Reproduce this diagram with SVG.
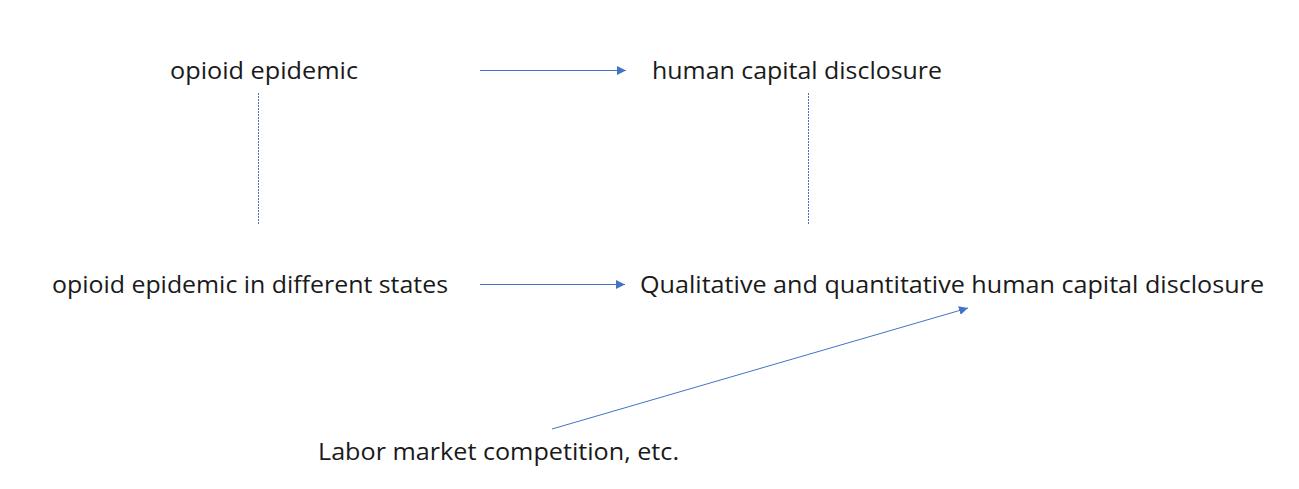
<svg xmlns="http://www.w3.org/2000/svg" width="1299" height="489" viewBox="0 0 1299 489">
<style>
text{font-family:"Open Sans","Noto Sans","Liberation Sans",sans-serif;font-size:24px;fill:#1a1a1a}
.c{stroke:#4472C4;stroke-width:1;fill:none}
.d{stroke:#4472C4;stroke-width:1;stroke-dasharray:2 1;fill:none}
</style>
<defs>
<marker id="ah" markerWidth="10" markerHeight="10" refX="9" refY="4.5" orient="auto" markerUnits="userSpaceOnUse">
<path d="M0,0 L9,4.5 L0,9 Z" fill="#4472C4"/>
</marker>
</defs>
<rect width="1299" height="489" fill="#fff"/>
<g id="n1"><text x="170" y="79" textLength="188" lengthAdjust="spacingAndGlyphs">opioid epidemic</text></g>
<g id="n2"><text x="652" y="79" textLength="290" lengthAdjust="spacingAndGlyphs">human capital disclosure</text></g>
<g id="n3"><text x="52" y="293" textLength="396" lengthAdjust="spacingAndGlyphs">opioid epidemic in different states</text></g>
<g id="n4"><text x="640" y="293" textLength="624" lengthAdjust="spacingAndGlyphs">Qualitative and quantitative human capital disclosure</text></g>
<g id="n5"><text x="318" y="460" textLength="361" lengthAdjust="spacingAndGlyphs">Labor market competition, etc.</text></g>
<g id="connectors">
<line class="c" x1="480" y1="70.5" x2="626" y2="70.5" marker-end="url(#ah)"/>
<line class="c" x1="480" y1="284.5" x2="625" y2="284.5" marker-end="url(#ah)"/>
<line class="c" x1="552" y1="429" x2="968" y2="308" marker-end="url(#ah)"/>
<line class="d" x1="258.5" y1="93" x2="258.5" y2="225"/>
<line class="d" x1="808.5" y1="93" x2="808.5" y2="225"/>
</g>
</svg>
